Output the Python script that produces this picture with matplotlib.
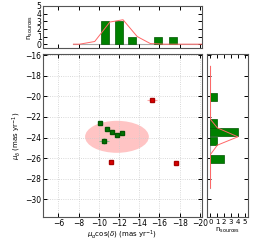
import numpy as np
import matplotlib
matplotlib.use("Agg")
import matplotlib.pyplot as plt
from matplotlib.patches import Ellipse

# proper motions of the members (green) and outliers (red)
pmra_in = [-10.16, -10.81, -11.35, -11.77, -12.34, -10.49]
pmde_in = [-22.60, -23.18, -23.45, -23.74, -23.54, -24.35]
pmra_in_err = [0.15, 0.15, 0.15, 0.15, 0.15, 0.5]
pmde_in_err = [0.1, 0.1, 0.1, 0.1, 0.1, 0.3]

pmra_out = [-11.21, -17.68, -15.24]
pmde_out = [-26.36, -26.42, -20.37]
pmra_out_err = [0.1, 0.1, 0.5]
pmde_out_err = [0.1, 0.1, 0.2]

# cluster ellipse
ell_center = (-11.8, -23.93)
ell_size = (6.3, 3.1)

# histogram of pmra (top)
hx_centers = [-10.6, -12.0, -13.3, -15.9, -17.3]
hx_counts = [3, 3, 1, 1, 1]
cx = [-7.5, -8.1, -9.6, -11.1, -12.4, -13.8, -15.1, -16.5, -20.2]
cx_val = [0.0, 0.0, 0.35, 2.9, 3.2, 1.0, 0.08, 0.0, 0.0]

# histogram of pmdec (right)
hy_centers = [-20.05, -22.63, -23.48, -24.33, -26.07]
hy_counts = [1, 1, 4, 1, 2]
cy = [-17.1, -22.24, -23.06, -23.93, -24.74, -25.64, -28.9]
cy_val = [0.0, 0.0, 1.0, 4.0, 1.0, 0.0, 0.0]

plt.rcParams['font.size'] = 5.5
plt.rcParams['xtick.direction'] = 'in'
plt.rcParams['ytick.direction'] = 'in'
plt.rcParams['axes.edgecolor'] = '#555555'
plt.rcParams['axes.linewidth'] = 0.8

fig = plt.figure(figsize=(2.55, 2.40), dpi=100)
ax = fig.add_axes([0.169, 0.096, 0.623, 0.679])
axt = fig.add_axes([0.169, 0.8, 0.623, 0.175])
axr = fig.add_axes([0.812, 0.096, 0.161, 0.679])

xlim = (-4.5, -20.2)
ylim = (-31.7, -15.9)
xt = np.arange(-6, -21, -2)
yt = np.arange(-16, -31, -2)

# main panel
ax.add_patch(Ellipse(ell_center, ell_size[0], ell_size[1], color='#ffb0b0', alpha=0.75, lw=0, zorder=1))
ax.errorbar(pmra_in, pmde_in, xerr=pmra_in_err, yerr=pmde_in_err, fmt='s', ms=2.5,
            color='#007700', mec='#005500', ecolor='#88bb88', elinewidth=0.8, capsize=0, zorder=3)
ax.errorbar(pmra_out, pmde_out, xerr=pmra_out_err, yerr=pmde_out_err, fmt='s', ms=2.5,
            color='#dd0000', mec='#aa0000', ecolor='#ffaaaa', elinewidth=0.8, capsize=0, zorder=3)
ax.set_xlim(xlim)
ax.set_ylim(ylim)
ax.set_xticks(xt)
ax.set_yticks(yt)
ax.grid(True, ls=':', color='#cccccc', lw=0.6)
ax.tick_params(top=True, right=True, length=3, width=0.7, pad=1.5)
ax.set_xlabel(r'$\mu_\alpha\cos(\delta)$ (mas yr$^{-1}$)', fontsize=5, labelpad=0.5)
ax.set_ylabel(r'$\mu_\delta$ (mas yr$^{-1}$)', fontsize=5, labelpad=1)

# top histogram
axt.plot([cx[0], cx[-1]], [0, 0], color='#aaaaaa', lw=0.8, zorder=1)
axt.bar(hx_centers, hx_counts, width=0.8, color='green', edgecolor='#005500', lw=0.5, zorder=2)
axt.plot(cx, cx_val, color='#ff6666', lw=0.7, zorder=3)
axt.set_xlim(xlim)
axt.set_ylim(-0.5, 5)
axt.set_xticks(xt)
axt.set_xticklabels([])
axt.set_yticks(range(0, 6))
axt.tick_params(top=True, right=True, length=3, width=0.7, pad=1)
axt.set_ylabel(r'n$_{\rm sources}$', fontsize=5, labelpad=1)

# right histogram
axr.plot([0, 0], [cy[0], cy[-1]], color='#aaaaaa', lw=0.8, zorder=1)
axr.barh(hy_centers, hy_counts, height=0.8, color='green', edgecolor='#005500', lw=0.5, zorder=2)
axr.plot(cy_val, cy, color='#ff6666', lw=0.7, zorder=3)
axr.set_ylim(ylim)
axr.set_xlim(-0.5, 5.5)
axr.set_yticks(yt)
axr.set_yticklabels([])
axr.set_xticks(range(0, 6))
axr.tick_params(axis='x', labelsize=5)
axr.tick_params(top=True, right=True, length=3, width=0.7, pad=1.5)
axr.set_xlabel(r'n$_{\rm sources}$', fontsize=5, labelpad=0.5)

fig.savefig('out.png', dpi=100)
